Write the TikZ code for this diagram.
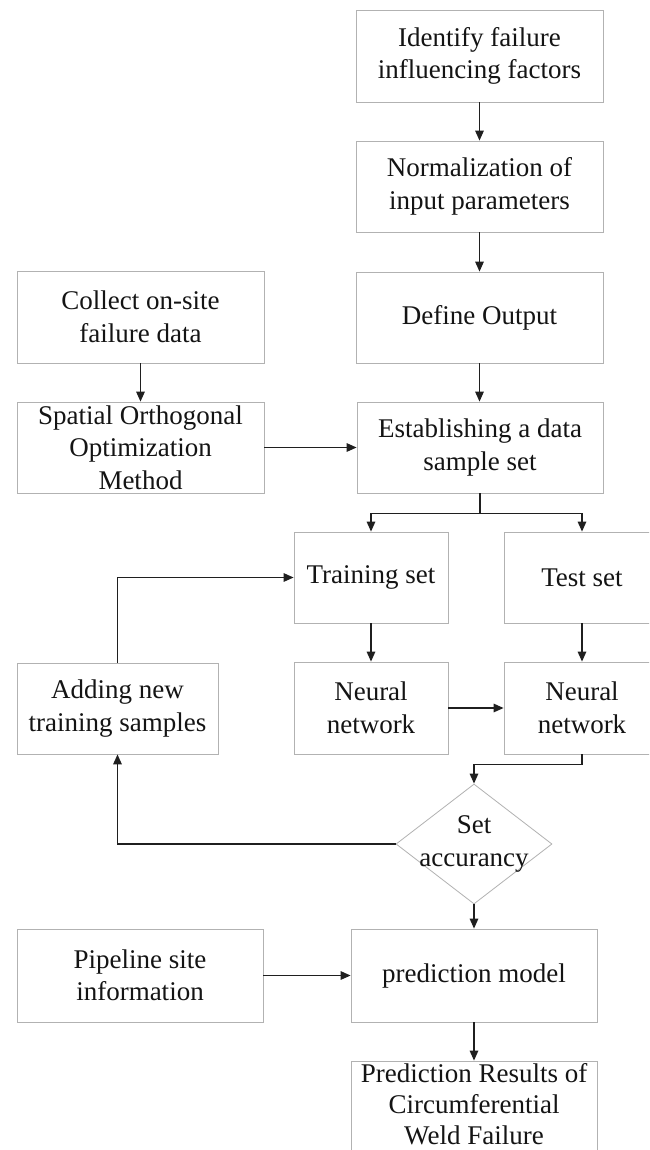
\documentclass[tikz,border=0pt]{standalone}
\usepackage{fontspec}
\setmainfont{Liberation Serif}
\usetikzlibrary{arrows.meta,shapes.geometric}
\begin{document}
\begin{tikzpicture}[x=1pt,y=-1pt,
  font=\fontsize{27}{32.5}\selectfont,
  box/.style={draw=black!30, line width=0.8pt, fill=white, inner sep=0pt, align=center, text=black!92},
  dia/.style={draw=black!30, line width=0.8pt, shape=diamond, inner sep=0pt, minimum width=156pt, minimum height=120pt},
  conn/.style={draw=black!88, line width=1.4pt},
  arr/.style={conn, -{Triangle[length=10pt,width=8.5pt]}}]
\clip (0,0) rectangle (649,1150);
\fill[white] (0,0) rectangle (649,1150);
\node[box, minimum width=247pt, minimum height=92pt] (idf) at (479.5,56) {Identify failure\\influencing factors};
\node[box, minimum width=247pt, minimum height=91pt] (norm) at (479.5,186.5) {Normalization of\\input parameters};
\node[box, minimum width=247pt, minimum height=91pt] (defo) at (479.5,317.5) {Define Output};
\node[box, minimum width=247pt, minimum height=92pt] (coll) at (140.5,317) {Collect on-site\\failure data};
\node[box, minimum width=247pt, minimum height=91pt] (soo) at (140.5,447.5) {Spatial Orthogonal\\Optimization\\Method};
\node[box, minimum width=246pt, minimum height=91pt] (est) at (480,447.5) {Establishing a data\\sample set};
\node[box, minimum width=154pt, minimum height=91pt] (train) at (371,577.5) {Training set};
\node[box, minimum width=156pt, minimum height=91pt] (test) at (582,577.5) {Test set};
\node[box, minimum width=201pt, minimum height=91pt] (add) at (117.5,708.5) {Adding new\\training samples};
\node[box, minimum width=154pt, minimum height=92pt] (nn1) at (371,708) {Neural\\network};
\node[box, minimum width=156pt, minimum height=92pt] (nn2) at (582,708) {Neural\\network};
\node[dia] (acc) at (474,844) {};
\node[align=center, inner sep=0pt, text=black!92] (acct) at (acc.center) {Set\\accurancy};
\node[box, minimum width=246pt, minimum height=93pt] (pipe) at (140,975.5) {Pipeline site\\information};
\node[box, minimum width=246pt, minimum height=93pt] (pred) at (474,975.5) {prediction model};
\node[box, minimum width=246pt, minimum height=100pt] (res) at (474,1111) {};
\node[align=center, inner sep=0pt, text=black!92, font=\fontsize{27}{31}\selectfont, anchor=north] (rest) at ([yshift=-3pt]res.north) {Prediction Results of\\Circumferential\\Weld Failure};
\draw[arr] (idf) -- (norm);
\draw[arr] (norm) -- (defo);
\draw[arr] (defo.south) -- (defo.south |- est.north);
\draw[arr] (coll) -- (soo);
\draw[arr] (soo) -- (est);
\draw[arr] (est.south) -- ++(0,20) -| (train.north);
\draw[arr] (est.south) -- ++(0,20) -| (test.north);
\draw[arr] (train) -- (nn1);
\draw[arr] (test) -- (nn2);
\draw[arr] (nn1) -- (nn2);
\draw[arr] (nn2.south) -- ++(0,10) -| (acc.north);
\draw[arr] (acc.west) -| (add.south);
\draw[arr] (add.north) |- (train.west);
\draw[arr] (acc.south) -- (pred.north);
\draw[arr] (pipe) -- (pred);
\draw[arr] (pred) -- (res);
\end{tikzpicture}
\end{document}
